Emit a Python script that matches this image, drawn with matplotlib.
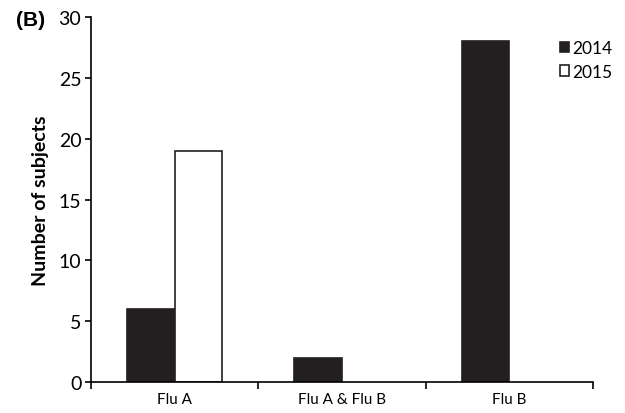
import numpy as np
import matplotlib
matplotlib.use("Agg")
from matplotlib import pyplot as plt

categories = ["Flu A", "Flu A & Flu B", "Flu B"]
subjects_2014 = [6, 2, 28]
subjects_2015 = [19, 0, 0]
yticks = [0, 5, 10, 15, 20, 25, 30]

plt.rcParams['font.family'] = ['Lato', 'DejaVu Sans']

fig = plt.figure(figsize=(6.25, 4.14), dpi=100)
ax = fig.add_axes([0.1456, 0.0749, 0.8034, 0.8816])

x = np.arange(len(categories))
w = 0.285
ax.bar(x - w / 2, subjects_2014, w, color="#231f20", edgecolor="#231f20",
       linewidth=1.2, label="2014")
bars15 = ax.bar(x + w / 2, subjects_2015, w, color="white", edgecolor="#231f20",
                linewidth=1.2, label="2015")
# empty bars show no outline in the original
for b in bars15:
    if b.get_height() == 0:
        b.set_linewidth(0)

ax.set_xlim(-0.5, 2.5)
ax.set_ylim(0, 30)
ax.set_yticks(yticks)
ax.set_xticks([-0.5, 0.5, 1.5, 2.5])
ax.set_xticklabels([])
ax.set_xticks(x, minor=True)
ax.set_xticklabels(categories, minor=True)
ax.tick_params(axis="x", which="minor", length=0, pad=7, labelsize=11)
ax.tick_params(axis="x", which="major", length=5, width=1.2, direction="out")
ax.tick_params(axis="y", length=4, width=1.2, labelsize=14, pad=3)

for s in ["top", "right"]:
    ax.spines[s].set_visible(False)
for s in ["left", "bottom"]:
    ax.spines[s].set_linewidth(1.2)

ax.set_ylabel("Number of subjects", fontsize=14, fontweight="bold", labelpad=7)
fig.text(0.026, 0.95, "(B)", fontsize=15, fontweight="bold", va="center",
         family="Liberation Sans")

ax.legend(loc="upper right", bbox_to_anchor=(1.07, 0.98), frameon=False,
          handlelength=0.55, handleheight=0.55, handletextpad=0.2,
          labelspacing=0.45, fontsize=12.5)

fig.savefig("out.png", dpi=100)
